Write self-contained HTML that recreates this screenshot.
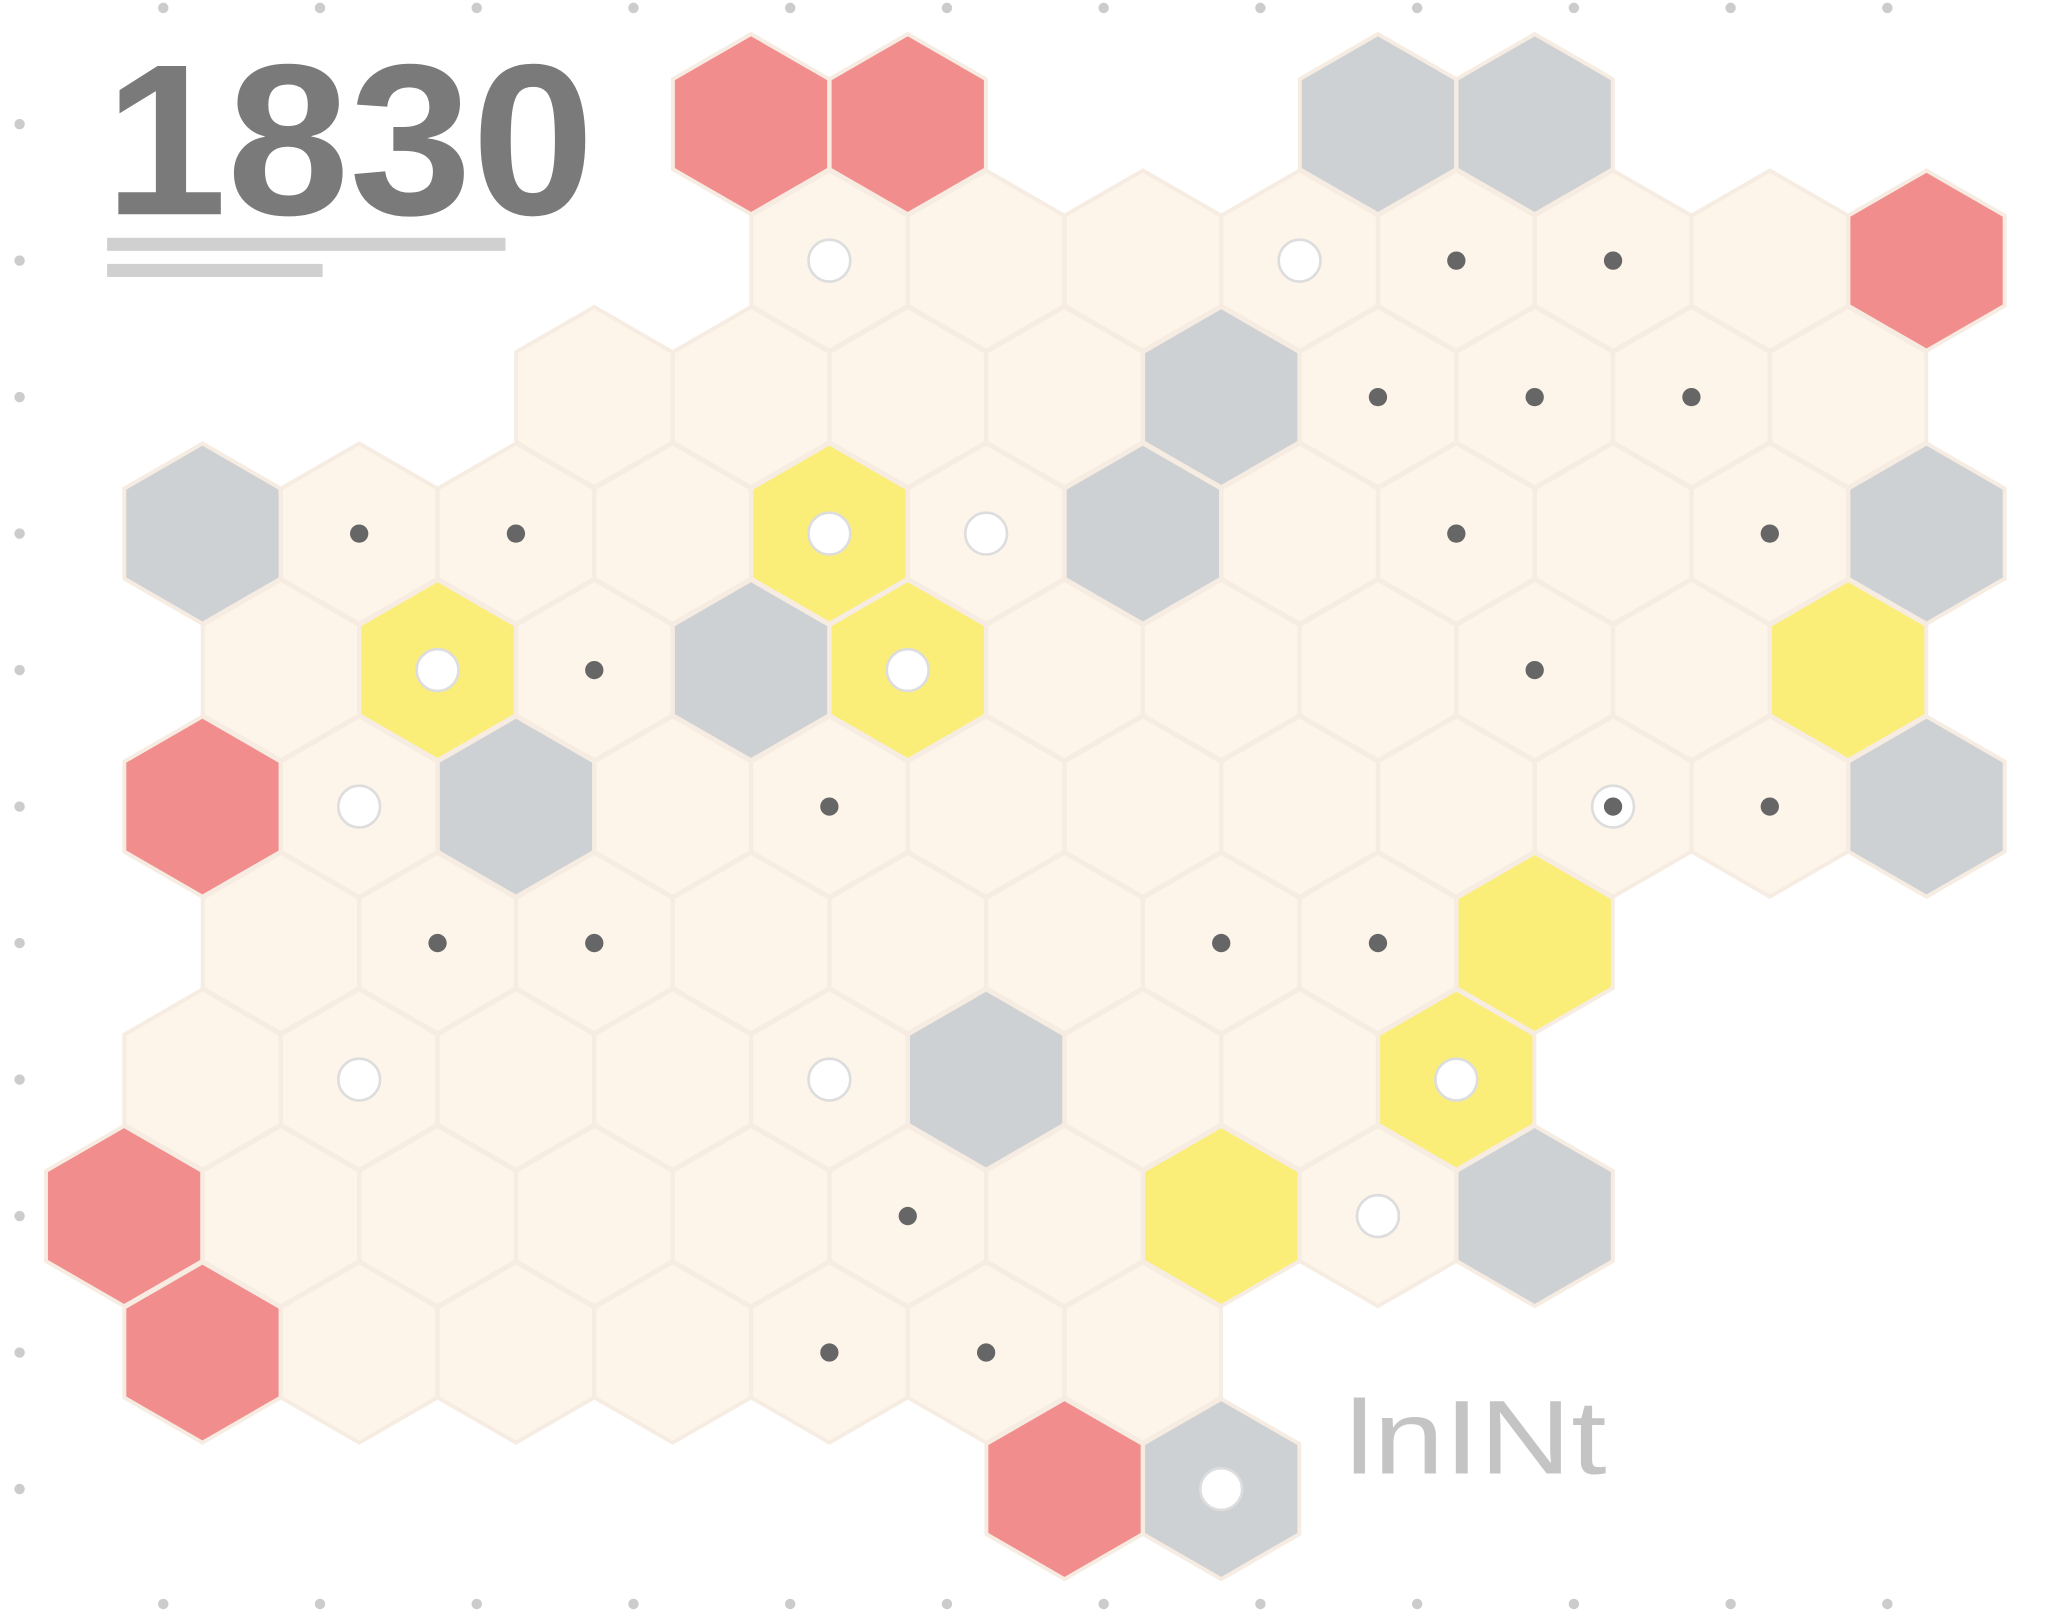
<!DOCTYPE html>
<html><head><meta charset="utf-8">
<style>
html,body{margin:0;padding:0;background:#fff;}
svg{display:block;}
</style></head>
<body>
<svg id="map" width="2048" height="1621" viewBox="0 0 1568 1241" xmlns="http://www.w3.org/2000/svg">
<rect width="1568" height="1241" fill="#fff"/>
<g id="hexes"></g>
<g id="marks"></g>
<g id="dots"></g>
<text x="80" y="164" font-family="Liberation Sans, sans-serif" font-weight="bold" font-size="165" fill="#7a7a7a" textLength="375" lengthAdjust="spacingAndGlyphs">1830</text>
<rect x="82" y="182" width="305" height="10" fill="#b0b0b0" opacity="0.6"/>
<rect x="82" y="202" width="165" height="10" fill="#b0b0b0" opacity="0.6"/>
<text x="1030" y="1128" font-family="Liberation Sans, sans-serif" font-size="80" fill="#c4c4c4" textLength="200" lengthAdjust="spacingAndGlyphs">lnINt</text>
</svg>
<script>
// tile data: row index, column index (x slot), kind
const rows = [0,0,0,0, 1,1,1,1,1,1,1,1, 2,2,2,2,2,2,2,2,2, 3,3,3,3,3,3,3,3,3,3,3,3, 4,4,4,4,4,4,4,4,4,4,4, 5,5,5,5,5,5,5,5,5,5,5,5, 6,6,6,6,6,6,6,6,6, 7,7,7,7,7,7,7,7,7, 8,8,8,8,8,8,8,8,8,8, 9,9,9,9,9,9,9, 10,10];
const cols = [4,5,8,9, 4,5,6,7,8,9,10,11, 3,4,5,6,7,8,9,10,11, 0,1,2,3,4,5,6,7,8,9,10,11, 1,2,3,4,5,6,7,8,9,10,11, 0,1,2,3,4,5,6,7,8,9,10,11, 1,2,3,4,5,6,7,8,9, 0,1,2,3,4,5,6,7,8, 0,1,2,3,4,5,6,7,8,9, 0,1,2,3,4,5,6, 6,7];
const kinds = ['r','r','g','g', 'c','c','c','c','c','c','c','r', 'c','c','c','c','g','c','c','c','c', 'g','c','c','c','y','c','g','c','c','c','c','g', 'c','y','c','g','y','c','c','c','c','c','y', 'r','c','g','c','c','c','c','c','c','c','c','g', 'c','c','c','c','c','c','c','c','y', 'c','c','c','c','c','g','c','c','y', 'r','c','c','c','c','c','c','y','c','g', 'r','c','c','c','c','c','c', 'r','g'];
// cities (white circles) and towns (dark dots): row, col
const cityRows = [1,1,3,3,4,4,5,5,7,7,7,8,4,8,10];
const cityCols = [4,7,4,5,2,5,1,9,1,4,8,8,2,8,7];
const townRows = [3,3,4,5,6,6,6,6,1,4,5,5,8,9,9,2,2,2,3,3,1];
const townCols = [1,2,3,4,2,3,7,8,9,9,9,10,5,4,5,8,9,10,8,10,8];

const colors = {c:'#fdf4ea', r:'#f18d8d', g:'#ced1d4', y:'#fbee78'};
const hx = (r,c) => (r%2===0 ? 95 : 155) + 120*c;
const hy = r => 95 + 104.5*r;
const R = 69;
const NS = 'http://www.w3.org/2000/svg';
const gH = document.getElementById('hexes');
for (let i=0;i<rows.length;i++){
  const x=hx(rows[i],cols[i]), y=hy(rows[i]);
  let pts=[];
  for(let k=0;k<6;k++){const a=Math.PI/180*(60*k-90);pts.push((x+R*Math.cos(a)).toFixed(1)+','+(y+R*Math.sin(a)).toFixed(1));}
  const p=document.createElementNS(NS,'polygon');
  p.setAttribute('points',pts.join(' '));
  p.setAttribute('fill',colors[kinds[i]]);
  p.setAttribute('stroke','#f6ece2');
  p.setAttribute('stroke-width','3');
  
  
  gH.appendChild(p);
}
const gM=document.getElementById('marks');
for(let i=0;i<cityRows.length;i++){
  const c=document.createElementNS(NS,'circle');
  c.setAttribute('cx',hx(cityRows[i],cityCols[i]));c.setAttribute('cy',hy(cityRows[i]));
  c.setAttribute('r',16);c.setAttribute('fill','#fff');c.setAttribute('stroke','#ddd');c.setAttribute('stroke-width','2');
  
  
  gM.appendChild(c);
}
for(let i=0;i<townRows.length;i++){
  const c=document.createElementNS(NS,'circle');
  c.setAttribute('cx',hx(townRows[i],townCols[i]));c.setAttribute('cy',hy(townRows[i]));
  c.setAttribute('r',7);c.setAttribute('fill','#666');
  
  
  gM.appendChild(c);
}
const gD=document.getElementById('dots');
for(let c=0;c<12;c++){
  for(const y of [6,1228]){
    const d=document.createElementNS(NS,'circle');
    d.setAttribute('cx',125+120*c);d.setAttribute('cy',y);d.setAttribute('r',4);d.setAttribute('fill','#ccc');
    
    
    gD.appendChild(d);
  }
}
for(let r=0;r<11;r++){
  const d=document.createElementNS(NS,'circle');
  d.setAttribute('cx',15);d.setAttribute('cy',hy(r));d.setAttribute('r',4);d.setAttribute('fill','#ccc');
  
  
  gD.appendChild(d);
}
</script>
</body></html>
